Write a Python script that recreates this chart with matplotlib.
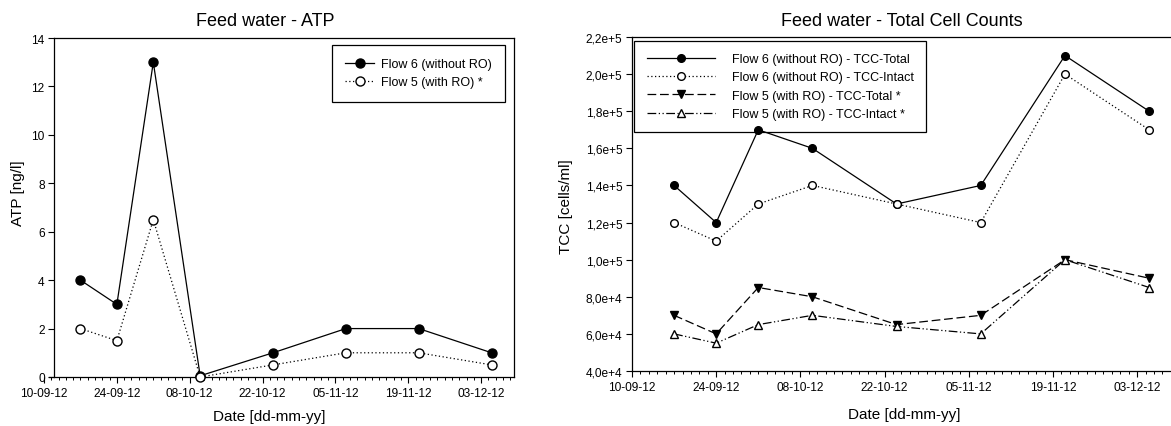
import numpy as np
import matplotlib
matplotlib.use("Agg")
import matplotlib.pyplot as plt
import matplotlib.dates as mdates
from matplotlib.ticker import FixedLocator, FuncFormatter
from datetime import datetime

plt.rcParams['font.family'] = ['Liberation Sans', 'DejaVu Sans']

# sampling dates
dates = ["17-09-12", "24-09-12", "01-10-12", "10-10-12",
         "24-10-12", "07-11-12", "21-11-12", "05-12-12"]

# ATP [ng/l]
atp_flow6 = [4.0, 3.0, 13.0, 0.05, 1.0, 2.0, 2.0, 1.0]
atp_flow5 = [2.0, 1.5, 6.5, 0.0, 0.5, 1.0, 1.0, 0.5]

# total cell counts [cells/ml]
tcc_f6_total = [1.4e5, 1.2e5, 1.7e5, 1.6e5, 1.3e5, 1.4e5, 2.1e5, 1.8e5]
tcc_f6_intact = [1.2e5, 1.1e5, 1.3e5, 1.4e5, 1.3e5, 1.2e5, 2.0e5, 1.7e5]
tcc_f5_total = [7.0e4, 6.0e4, 8.5e4, 8.0e4, 6.5e4, 7.0e4, 1.0e5, 9.0e4]
tcc_f5_intact = [6.0e4, 5.5e4, 6.5e4, 7.0e4, 6.4e4, 6.0e4, 1.0e5, 8.5e4]

x = mdates.date2num([datetime.strptime(d, "%d-%m-%y") for d in dates])
d0 = mdates.date2num(datetime(2012, 9, 10))
span = 90.3

W, H = 1171, 427
fig = plt.figure(figsize=(W / 100, H / 100), dpi=100)


def px_rect(l, t, r, b):
    return [l / W, 1 - b / H, (r - l) / W, (b - t) / H]


def style_dates(ax):
    ax.set_xlim(d0, d0 + span)
    ax.xaxis.set_major_locator(FixedLocator(np.arange(d0, d0 + span, 14)))
    ax.xaxis.set_minor_locator(FixedLocator(np.arange(d0, d0 + span, 1.4)))
    ax.xaxis.set_major_formatter(mdates.DateFormatter("%d-%m-%y"))
    ax.tick_params(axis='both', which='major', direction='out', length=4,
                   width=0.8, labelsize=8.6, pad=3)
    ax.tick_params(axis='x', which='minor', direction='out', length=2.5, width=0.7)
    for s in ax.spines.values():
        s.set_linewidth(0.9)


# ---- left: ATP ----
ax1 = fig.add_axes(px_rect(44, 39, 514, 378))
style_dates(ax1)
ax1.set_ylim(0, 14)
ax1.set_yticks(np.arange(0, 15, 2))
ax1.spines['left'].set_position(('data', d0 + 2))
ax1.spines['top'].set_bounds(d0 + 2, d0 + span)
ax1.spines['bottom'].set_bounds(d0 + 1, d0 + span)

ax1.plot(x, atp_flow6, color='black', lw=0.9, marker='o', ms=6.5,
         mfc='black', mec='black', label="Flow 6 (without RO)", clip_on=False, zorder=3)
ax1.plot(x, atp_flow5, color='black', lw=0.9, ls=(0, (1, 2)), marker='o', ms=6.5,
         mfc='white', mec='black', label="Flow 5 (with RO) *", clip_on=False, zorder=4)

leg1 = ax1.legend(loc='upper left', bbox_to_anchor=(0.613, 0.979), borderaxespad=0,
                  fontsize=9, frameon=True, fancybox=False, framealpha=1,
                  handlelength=2.3, handletextpad=0.6, borderpad=1.05, labelspacing=0.5)
leg1.get_frame().set_edgecolor('black')
leg1.get_frame().set_linewidth(0.9)

fig.text(265 / W, 1 - 21 / H, "Feed water - ATP", ha='center', va='center', fontsize=13)
fig.text(269 / W, 1 - 417 / H, "Date [dd-mm-yy]", ha='center', va='center', fontsize=11)
fig.text(18 / W, 1 - 193 / H, "ATP [ng/l]", ha='center', va='center', rotation=90, fontsize=11)

# ---- right: TCC ----
ax2 = fig.add_axes(px_rect(632, 38, 1175, 372))
style_dates(ax2)
ax2.set_ylim(4e4, 2.2e5)
ax2.set_yticks(np.arange(4e4, 2.21e5, 2e4))


def sci_comma(v, pos):
    e = int(np.floor(np.log10(v)))
    m = v / 10 ** e
    return f"{m:.1f}".replace('.', ',') + f"e+{e}"


ax2.yaxis.set_major_formatter(FuncFormatter(sci_comma))

ax2.plot(x, tcc_f6_total, color='black', lw=0.9, marker='o', ms=5.5,
         mfc='black', mec='black', label="Flow 6 (without RO) - TCC-Total", zorder=3)
ax2.plot(x, tcc_f6_intact, color='black', lw=0.9, ls=(0, (1, 2)), marker='o', ms=5.5,
         mfc='white', mec='black', label="Flow 6 (without RO) - TCC-Intact", zorder=4)
ax2.plot(x, tcc_f5_total, color='black', lw=0.9, ls=(0, (7, 3)), marker='v', ms=6,
         mfc='black', mec='black', label="Flow 5 (with RO) - TCC-Total *", zorder=3)
ax2.plot(x, tcc_f5_intact, color='black', lw=0.9, ls=(0, (7, 2, 1, 2, 1, 2)), marker='^', ms=6,
         mfc='white', mec='black', label="Flow 5 (with RO) - TCC-Intact *", zorder=4)

leg2 = ax2.legend(loc='upper left', bbox_to_anchor=(0.004, 0.989), borderaxespad=0,
                  fontsize=9, frameon=True, fancybox=False, framealpha=1,
                  handlelength=5.5, handletextpad=1.3, borderpad=1.0, labelspacing=0.5)
leg2.get_frame().set_edgecolor('black')
leg2.get_frame().set_linewidth(0.9)
leg2.set_zorder(2)

fig.text(902 / W, 1 - 21 / H, "Feed water - Total Cell Counts", ha='center', va='center', fontsize=13)
fig.text(904 / W, 1 - 415 / H, "Date [dd-mm-yy]", ha='center', va='center', fontsize=11)
fig.text(566 / W, 1 - 207 / H, "TCC [cells/ml]", ha='center', va='center', rotation=90, fontsize=11)

fig.savefig("out.png", dpi=100)
